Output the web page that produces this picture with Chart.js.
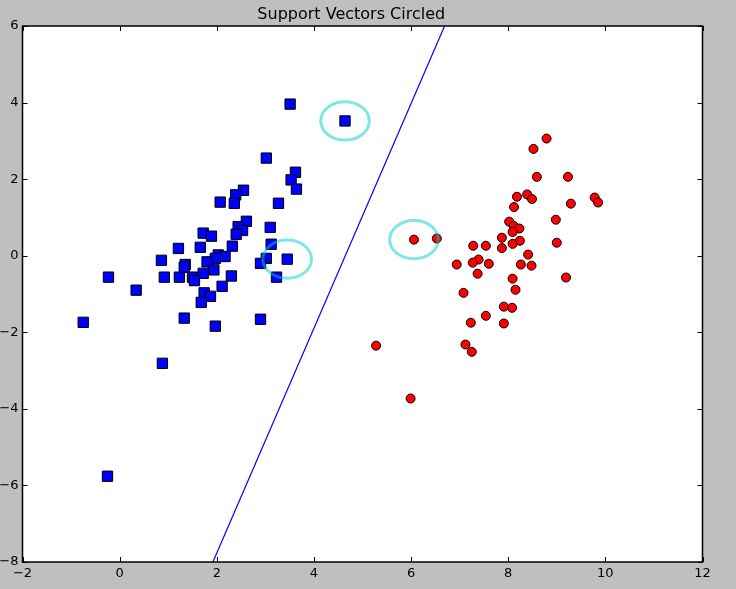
<!DOCTYPE html>
<html>
<head>
<meta charset="utf-8">
<script src="https://cdn.jsdelivr.net/npm/chart.js@4"></script>
<style>
  html, body { margin: 0; padding: 0; background: #bfbfbf; }
  #wrap { width: 736px; height: 589px; }
</style>
</head>
<body>
<div id="wrap"><canvas id="c" width="736" height="589"></canvas></div>
<script>
// class -1 (blue squares)
const blueX = [3.02, 3.62, 3.53, 3.64, 2.55, 2.39, 2.36, 2.07, 3.27, 2.61, 2.44, 2.53, 2.40,
  3.10, 1.72, 1.89, 3.12, 2.32, 1.66, 1.21, 2.03, 2.17, 1.97, 1.80, 3.02, 2.90,
  3.45, 0.86, 1.35, 1.33, 1.94, 1.72, 1.50, 1.54, 0.92, 1.23, -0.23, 2.30, 3.23,
  2.11, 0.34, 1.74, 1.87, 1.68, -0.75, 1.33, 2.90, 1.97, 0.88, -0.25, 3.51, 4.64];
const blueY = [2.55, 2.18, 1.98, 1.74, 1.71, 1.59, 1.37, 1.40, 1.37, 0.90, 0.76, 0.66, 0.56,
  0.74, 0.59, 0.51, 0.30, 0.25, 0.22, 0.19, 0.02, -0.02, -0.07, -0.16, -0.07, -0.20,
  -0.09, -0.12, -0.23, -0.30, -0.37, -0.46, -0.56, -0.65, -0.56, -0.56, -0.56, -0.53, -0.56,
  -0.80, -0.90, -0.97, -1.06, -1.22, -1.74, -1.63, -1.66, -1.84, -2.81, -5.76, 3.96, 3.52];

// class +1 (red circles)
const redX = [8.79, 8.52, 8.59, 9.23, 8.18, 8.39, 8.49, 9.78, 9.85, 9.29, 8.12, 8.98, 8.02,
  8.11, 8.23, 8.09, 7.87, 8.24, 8.09, 7.87, 9.00, 6.06, 6.53, 7.28, 7.54, 8.41,
  7.39, 7.27, 7.60, 6.94, 8.26, 8.48, 7.37, 8.09, 9.19, 8.15, 7.08, 7.91, 8.08,
  7.54, 7.23, 7.91, 5.28, 7.12, 7.25, 5.99];
const redY = [3.06, 2.79, 2.06, 2.06, 1.54, 1.60, 1.48, 1.52, 1.39, 1.36, 1.27, 0.94, 0.89,
  0.78, 0.71, 0.62, 0.47, 0.39, 0.31, 0.20, 0.34, 0.42, 0.45, 0.26, 0.26, 0.03,
  -0.10, -0.18, -0.21, -0.23, -0.23, -0.26, -0.47, -0.60, -0.57, -0.89, -0.97, -1.33, -1.36,
  -1.57, -1.75, -1.77, -2.35, -2.32, -2.51, -3.73];

// separating line
const lineX = [1.92, 6.69];
const lineY = [-8, 6];

// support vectors
const svX = [4.64, 3.45, 6.06];
const svY = [3.52, -0.09, 0.42];

const xTicks = [-2, 0, 2, 4, 6, 8, 10, 12];
const yTicks = [-8, -6, -4, -2, 0, 2, 4, 6];

function pts(xs, ys) {
  var out = [];
  for (var i = 0; i < xs.length; i++) out.push({x: xs[i], y: ys[i]});
  return out;
}
function fmt(v) {
  return v < 0 ? '\u2212' + Math.abs(v) : '' + v;
}

const axesBox = {
  id: 'axesBox',
  beforeDatasetsDraw(chart) {
    const a = chart.chartArea, ctx = chart.ctx;
    ctx.save();
    ctx.fillStyle = '#ffffff';
    ctx.fillRect(a.left, a.top, a.right - a.left, a.bottom - a.top);
    ctx.restore();
  },
  afterDatasetsDraw(chart) {
    const a = chart.chartArea, ctx = chart.ctx;
    const xs = chart.scales.x, ys = chart.scales.y;
    ctx.save();
    // support vector circles, radius 0.5 in data units
    ctx.strokeStyle = 'rgba(0,204,204,0.5)';
    ctx.lineWidth = 3;
    for (var i = 0; i < svX.length; i++) {
      var cx = xs.getPixelForValue(svX[i]), cy = ys.getPixelForValue(svY[i]);
      var rx = Math.abs(xs.getPixelForValue(svX[i] + 0.5) - cx);
      var ry = Math.abs(ys.getPixelForValue(svY[i] + 0.5) - cy);
      ctx.beginPath();
      ctx.ellipse(cx, cy, rx, ry, 0, 0, Math.PI * 2);
      ctx.stroke();
    }
    // inward ticks on all sides
    ctx.strokeStyle = '#000';
    ctx.lineWidth = 1;
    ctx.beginPath();
    xs.ticks.forEach(function (t) {
      var p = Math.round(xs.getPixelForValue(t.value)) + 0.5;
      ctx.moveTo(p, a.bottom); ctx.lineTo(p, a.bottom - 5);
      ctx.moveTo(p, a.top); ctx.lineTo(p, a.top + 5);
    });
    ys.ticks.forEach(function (t) {
      var p = Math.round(ys.getPixelForValue(t.value)) + 0.5;
      ctx.moveTo(a.left, p); ctx.lineTo(a.left + 5, p);
      ctx.moveTo(a.right, p); ctx.lineTo(a.right - 5, p);
    });
    ctx.stroke();
    ctx.lineWidth = 1.5;
    ctx.strokeRect(a.left, a.top, a.right - a.left, a.bottom - a.top);
    ctx.restore();
  }
};

new Chart(document.getElementById('c'), {
  type: 'scatter',
  data: {
    datasets: [
      {
        type: 'line',
        data: pts(lineX, lineY),
        borderColor: '#0000ff',
        borderWidth: 1.2,
        pointRadius: 0,
        fill: false
      },
      {
        data: pts(blueX, blueY),
        pointStyle: 'rect',
        pointRadius: 7.3,
        backgroundColor: '#0000ff',
        borderColor: '#000000',
        borderWidth: 1
      },
      {
        data: pts(redX, redY),
        pointStyle: 'circle',
        pointRadius: 4.5,
        backgroundColor: '#ff0000',
        borderColor: '#000000',
        borderWidth: 1
      }
    ]
  },
  options: {
    responsive: false,
    animation: false,
    devicePixelRatio: 1,
    layout: { padding: { top: 0, right: 33.5, bottom: 0, left: 0 } },
    plugins: {
      legend: { display: false },
      tooltip: { enabled: false },
      title: {
        display: true,
        text: 'Support Vectors Circled',
        color: '#000',
        font: { family: 'DejaVu Sans', size: 16, weight: 'normal' },
        padding: { top: 5.5, bottom: 1.3 }
      }
    },
    scales: {
      x: {
        type: 'linear',
        min: -2, max: 12,
        afterBuildTicks: function (s) { s.ticks = xTicks.map(function (v) { return {value: v}; }); },
        afterFit: function (s) { s.height = 27; },
        grid: { display: false, drawTicks: false, tickLength: 0 },
        border: { display: false },
        ticks: {
          autoSkip: false, maxRotation: 0, padding: 4, color: '#000',
          font: { family: 'DejaVu Sans', size: 13 },
          callback: function (v) { return fmt(v); }
        }
      },
      y: {
        type: 'linear',
        min: -8, max: 6,
        afterBuildTicks: function (s) { s.ticks = yTicks.map(function (v) { return {value: v}; }); },
        afterFit: function (s) { s.width = 22.5; },
        grid: { display: false, drawTicks: false, tickLength: 0 },
        border: { display: false },
        ticks: {
          autoSkip: false, padding: 4, color: '#000',
          font: { family: 'DejaVu Sans', size: 13 },
          callback: function (v) { return fmt(v); }
        }
      }
    }
  },
  plugins: [axesBox]
});
</script>
</body>
</html>
